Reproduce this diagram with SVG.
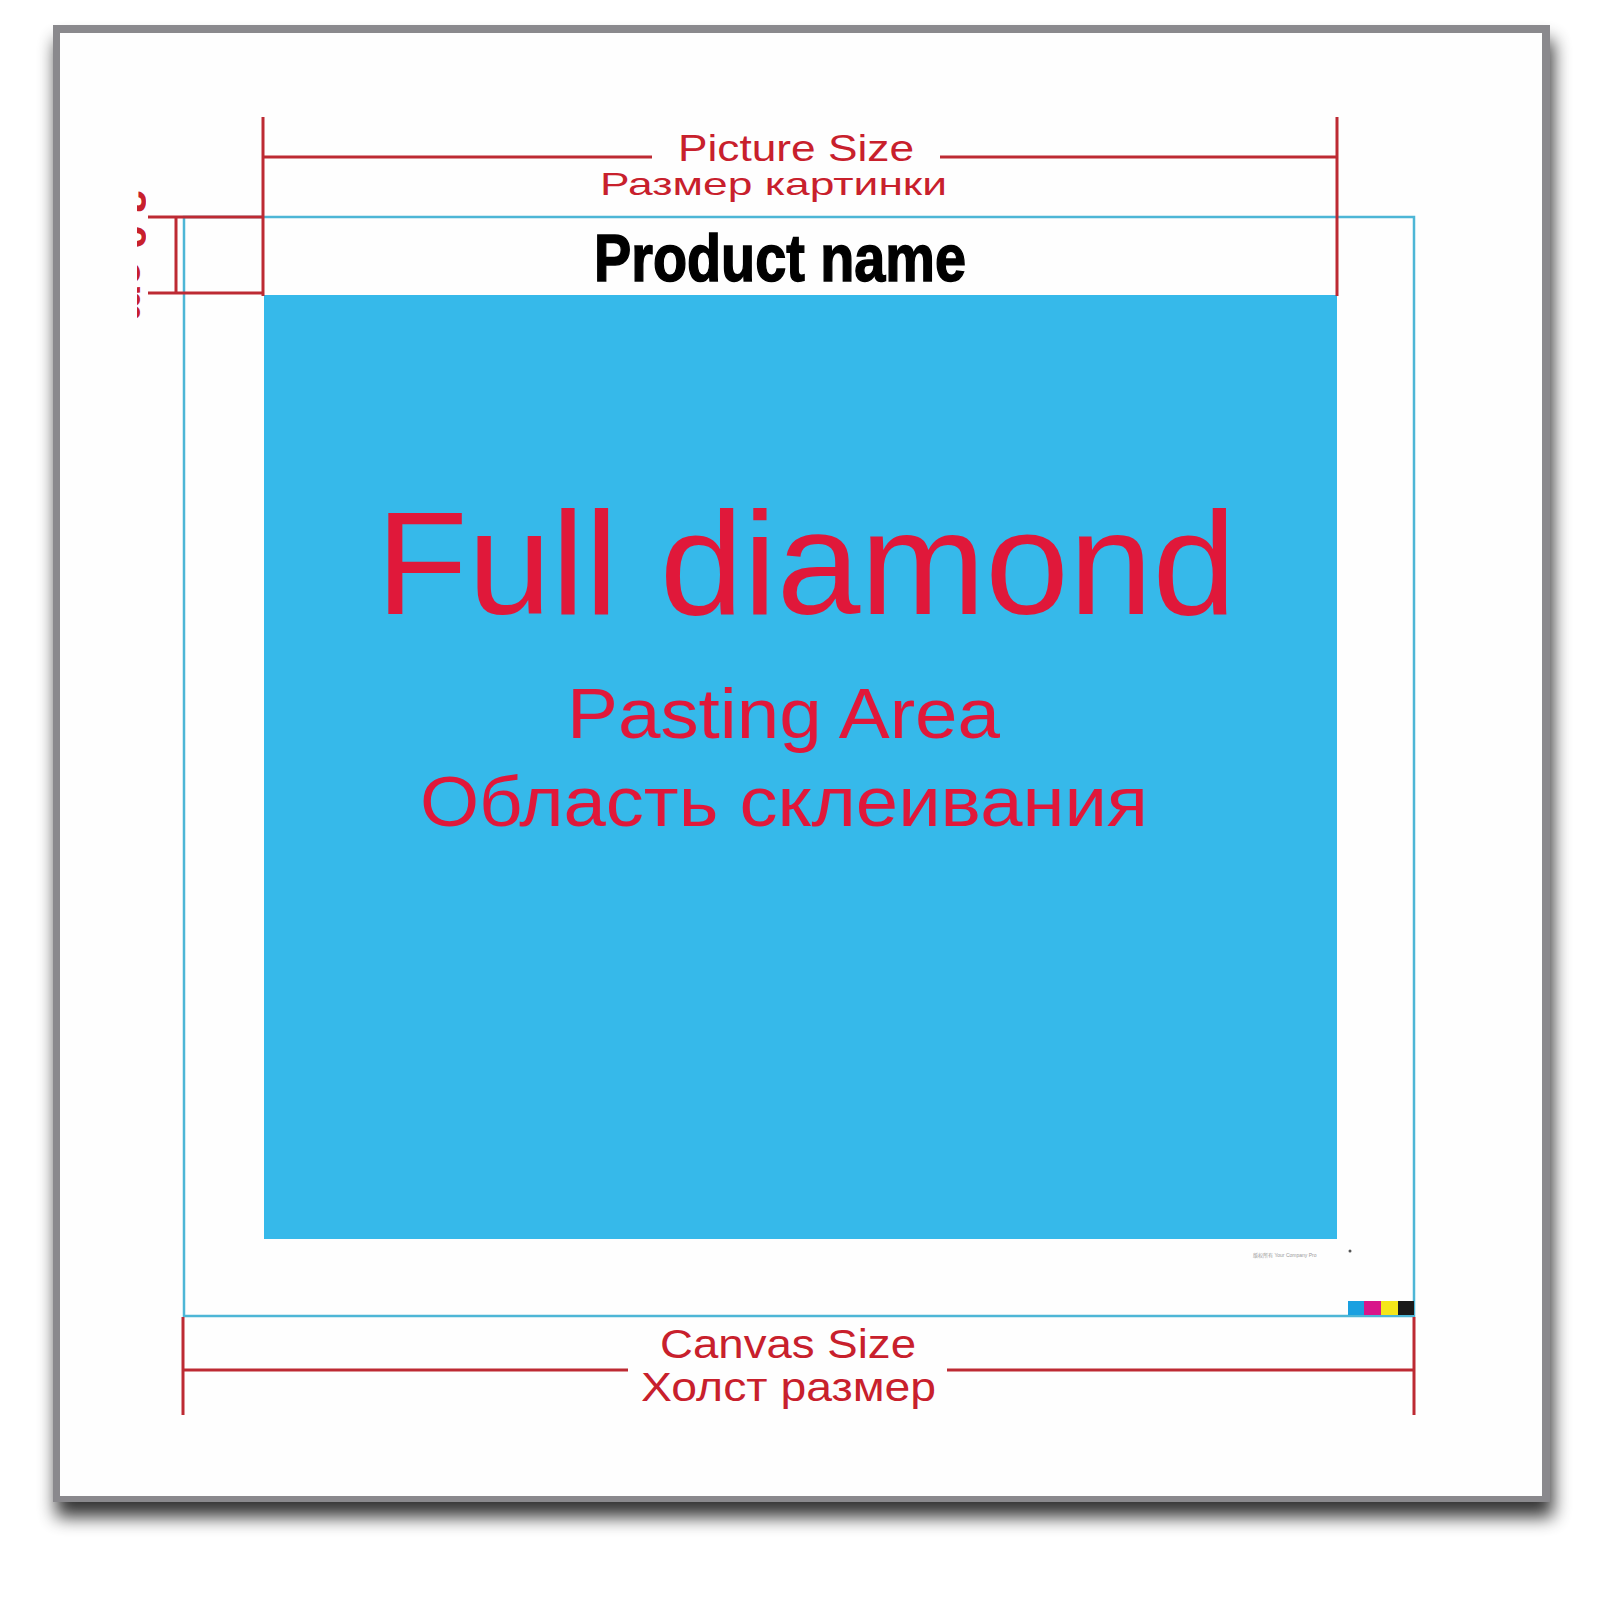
<svg xmlns="http://www.w3.org/2000/svg" width="1600" height="1600" viewBox="0 0 1600 1600">
  <style>
    .dim { stroke: #bd2a33; stroke-width: 3; fill: none; stroke-linecap: butt; }
    .cyan { stroke: #4db6d6; stroke-width: 2.5; fill: none; }
    .lbl { font-family: "Liberation Sans", Arial, sans-serif; fill: #c8202c; }
    .big { font-family: "Liberation Sans", Arial, sans-serif; fill: #e0183a; }
  </style>
  <defs>
    <filter id="shadow" x="-10%" y="-10%" width="120%" height="120%">
      <feGaussianBlur in="SourceAlpha" stdDeviation="9"/>
      <feOffset dx="3" dy="15" result="b"/>
      <feComponentTransfer><feFuncA type="linear" slope="0.8"/></feComponentTransfer>
      <feMerge><feMergeNode/><feMergeNode in="SourceGraphic"/></feMerge>
    </filter>
    <clipPath id="leftclip"><rect x="137" y="170" width="9" height="170"/></clipPath>
  </defs>
  <rect width="1600" height="1600" fill="#ffffff"/>

  <g id="frame">
    <rect x="53" y="25" width="1497" height="1477" fill="#8a898d" filter="url(#shadow)"/>
    <rect x="60" y="33" width="1482" height="1463" fill="#fefefe"/>
  </g>

  <g id="pasting-area">
    <rect x="264" y="295" width="1073" height="944" fill="#36b9ea"/>
    <text class="big" x="376" y="614" font-size="146" textLength="860" lengthAdjust="spacingAndGlyphs">Full diamond</text>
    <text class="big" x="567" y="738" font-size="70" textLength="433" lengthAdjust="spacingAndGlyphs">Pasting Area</text>
    <text class="big" x="420" y="826" font-size="70" textLength="728" lengthAdjust="spacingAndGlyphs">Область склеивания</text>
  </g>

  <g id="canvas-outline">
    <rect class="cyan" x="184" y="217" width="1230" height="1099"/>
  </g>

  <g id="product-name">
    <text x="594" y="281" font-family="Liberation Sans, Arial, sans-serif" font-weight="bold" font-size="66" fill="#000" stroke="#000" stroke-width="1.5" textLength="372" lengthAdjust="spacingAndGlyphs">Product name</text>
  </g>

  <g id="color-bar">
    <rect x="1348" y="1301" width="16" height="14" fill="#1aa0e0"/>
    <rect x="1364" y="1301" width="17" height="14" fill="#d8168a"/>
    <rect x="1381" y="1301" width="17" height="14" fill="#f5e61a"/>
    <rect x="1398" y="1301" width="16" height="14" fill="#1a1a1a"/>
  </g>

  <g id="imprint">
    <text x="1253" y="1257" font-family="Liberation Sans, 'Noto Sans CJK SC', sans-serif" font-size="5" fill="#9a9a9a">版权所有 Your Company Pro</text>
    <circle cx="1350" cy="1251" r="1.5" fill="#555"/>
  </g>

  <g id="connectors">
    <!-- Picture size dimension -->
    <line class="dim" x1="263" y1="117" x2="263" y2="296"/>
    <line class="dim" x1="1337" y1="117" x2="1337" y2="296"/>
    <line class="dim" x1="263" y1="157" x2="652" y2="157"/>
    <line class="dim" x1="940" y1="157" x2="1337" y2="157"/>
    <!-- Canvas size dimension -->
    <line class="dim" x1="183" y1="1317" x2="183" y2="1415"/>
    <line class="dim" x1="1414" y1="1317" x2="1414" y2="1415"/>
    <line class="dim" x1="183" y1="1370" x2="628" y2="1370"/>
    <line class="dim" x1="947" y1="1370" x2="1414" y2="1370"/>
    <!-- header band dimension -->
    <line class="dim" x1="148" y1="217" x2="263" y2="217"/>
    <line class="dim" x1="148" y1="293" x2="263" y2="293"/>
    <line class="dim" x1="176" y1="217" x2="176" y2="293"/>
  </g>

  <g id="labels">
    <text class="lbl" x="678" y="161" font-size="37" textLength="236" lengthAdjust="spacingAndGlyphs">Picture Size</text>
    <text class="lbl" x="600" y="195" font-size="32" textLength="347" lengthAdjust="spacingAndGlyphs">Размер картинки</text>
    <text class="lbl" x="660" y="1358" font-size="40" textLength="256" lengthAdjust="spacingAndGlyphs">Canvas Size</text>
    <text class="lbl" x="641" y="1401" font-size="40" textLength="295" lengthAdjust="spacingAndGlyphs">Холст размер</text>
    <g clip-path="url(#leftclip)">
      <text class="lbl" font-weight="bold" transform="translate(118,190) rotate(90)" font-size="40" textLength="132" lengthAdjust="spacingAndGlyphs">3.0 cm</text>
    </g>
  </g>
</svg>
